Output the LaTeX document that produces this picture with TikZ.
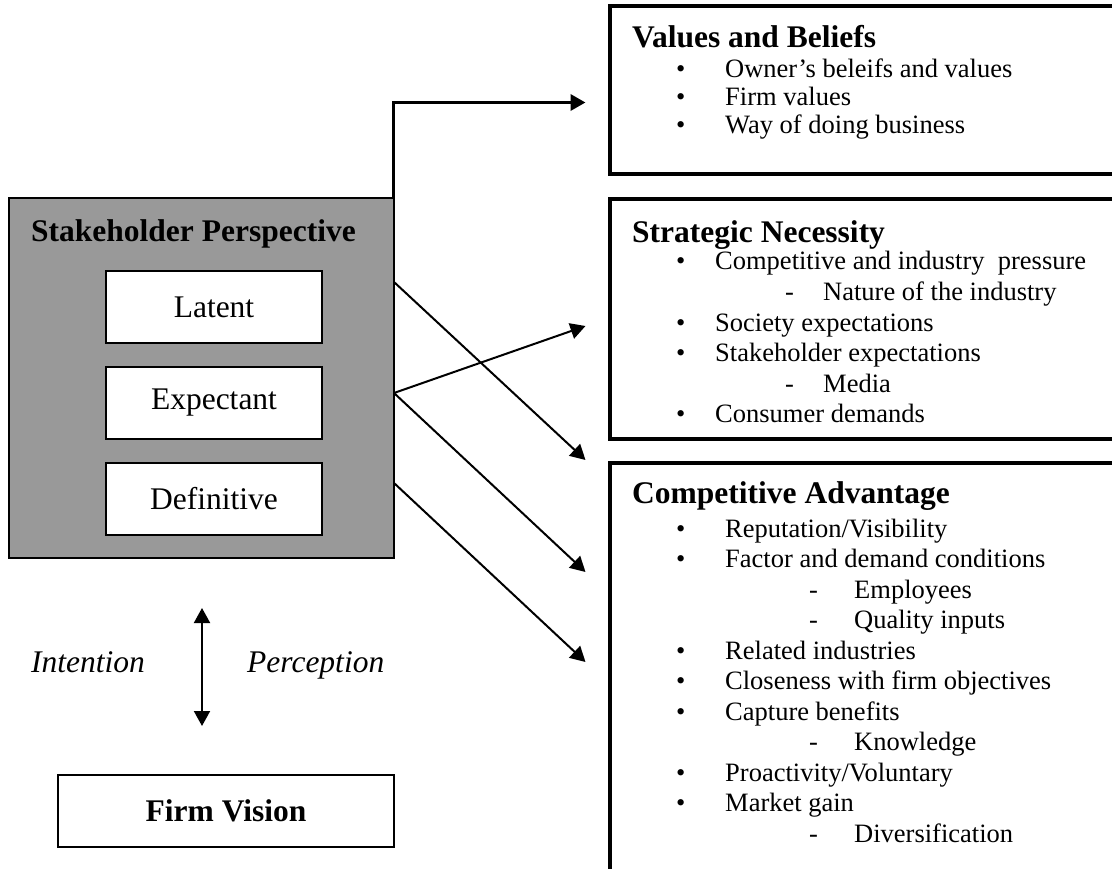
\documentclass[tikz,border=0pt]{standalone}
\usepackage{fontspec}
\setmainfont{Liberation Serif}
\usetikzlibrary{arrows.meta}
\definecolor{spgray}{RGB}{153,153,153}
\begin{document}
\begin{tikzpicture}[x=1pt,y=-1pt,
  bigbox/.style={draw, line width=4pt, inner sep=0pt, outer sep=0pt, anchor=north west, fill=white},
  inbox/.style={draw, line width=2pt, fill=white, inner sep=0pt, outer sep=0pt, minimum width=216pt, minimum height=72pt, font=\fontsize{31.5}{36}\selectfont},
  ttl/.style={anchor=base west, inner sep=0pt, font=\fontsize{31.5}{36}\selectfont\bfseries},
  itm/.style={anchor=base west, inner sep=0pt, font=\fontsize{26.5}{30}\selectfont},
  itl/.style={anchor=base west, inner sep=0pt, font=\fontsize{31.5}{36}\selectfont\itshape},
  tip/.style={-{Triangle[length=15pt,width=16pt]}},
  conn/.style={line width=2pt, tip},
  thickconn/.style={line width=3.5pt, tip},
  dbl/.style={line width=2pt, {Triangle[length=15pt,width=16pt]}-{Triangle[length=15pt,width=16pt]}}
]
\useasboundingbox (0,0) rectangle (1112,869);
\clip (0,0) rectangle (1112,869);

% ---------- right boxes ----------
\node[bigbox, minimum width=508pt, minimum height=168pt] (values) at (610,6.5) {};
\node[bigbox, minimum width=508pt, minimum height=240pt] (strat) at (610,199) {};
\node[bigbox, minimum width=508pt, minimum height=420pt] (comp) at (610,463) {};

% Values and Beliefs
\node[ttl] (vt) at (632,48) {Values and Beliefs};
\node[itm] (vb1) at (676,78) {\textbullet};  \node[itm] (v1) at (725,78) {Owner’s beleifs and values};
\node[itm] (vb2) at (676,106) {\textbullet}; \node[itm] (v2) at (725,106) {Firm values};
\node[itm] (vb3) at (676,134) {\textbullet}; \node[itm] (v3) at (725,134) {Way of doing business};

% Strategic Necessity
\node[ttl] (st) at (632,243) {Strategic Necessity};
\node[itm] (sb1) at (676,270) {\textbullet};   \node[itm] (s1) at (715,270) {Competitive and industry\ \ pressure};
\node[itm] (sd1) at (785,300.5) {-};           \node[itm] (s2) at (823,300.5) {Nature of the industry};
\node[itm] (sb3) at (676,331) {\textbullet};   \node[itm] (s3) at (715,331) {Society expectations};
\node[itm] (sb4) at (676,361.5) {\textbullet}; \node[itm] (s4) at (715,361.5) {Stakeholder expectations};
\node[itm] (sd5) at (785,392) {-};             \node[itm] (s5) at (823,392) {Media};
\node[itm] (sb6) at (676,422) {\textbullet};   \node[itm] (s6) at (715,422) {Consumer demands};

% Competitive Advantage
\node[ttl] (ct) at (632,503) {Competitive Advantage};
\node[itm] (cb1) at (676,537) {\textbullet};    \node[itm] (c1) at (725,537) {Reputation/Visibility};
\node[itm] (cb2) at (676,567.5) {\textbullet};  \node[itm] (c2) at (725,567.5) {Factor and demand conditions};
\node[itm] (cd3) at (809,598) {-};              \node[itm] (c3) at (854,598) {Employees};
\node[itm] (cd4) at (809,628.5) {-};            \node[itm] (c4) at (854,628.5) {Quality inputs};
\node[itm] (cb5) at (676,659) {\textbullet};    \node[itm] (c5) at (725,659) {Related industries};
\node[itm] (cb6) at (676,689.5) {\textbullet};  \node[itm] (c6) at (725,689.5) {Closeness with firm objectives};
\node[itm] (cb7) at (676,720) {\textbullet};    \node[itm] (c7) at (725,720) {Capture benefits};
\node[itm] (cd8) at (809,750.5) {-};            \node[itm] (c8) at (854,750.5) {Knowledge};
\node[itm] (cb9) at (676,781) {\textbullet};    \node[itm] (c9) at (725,781) {Proactivity/Voluntary};
\node[itm] (cb10) at (676,811.5) {\textbullet}; \node[itm] (c10) at (725,811.5) {Market gain};
\node[itm] (cd11) at (809,842) {-};             \node[itm] (c11) at (854,842) {Diversification};

% ---------- left side ----------
\node[draw, line width=2pt, fill=spgray, inner sep=0pt, outer sep=0pt, anchor=north west,
      minimum width=385pt, minimum height=360pt] (sp) at (9,198) {};
\node[ttl] (spt) at (31,242) {Stakeholder Perspective};
\node[inbox] (lat) at (214,307) {Latent};
\node[inbox] (exp) at (214,403) {Expectant};
\node[inbox] (def) at (214,498.5) {Definitive};

\node[draw, line width=2pt, fill=white, inner sep=0pt, outer sep=0pt,
      minimum width=336pt, minimum height=72pt, font=\fontsize{31.5}{36}\selectfont\bfseries] (fv) at (226,811) {Firm Vision};

\node[itl] (int) at (31,672) {Intention};
\node[itl] (per) at (247,672) {Perception};

% ---------- connectors ----------
\coordinate (tVal) at (585.5,102.5);
\coordinate (tLat) at (585.5,460);
\coordinate (tExpU) at (585.5,326);
\coordinate (tExpD) at (585.5,572);
\coordinate (tDef) at (585.5,662);
\coordinate (dA) at (202,608);
\coordinate (dB) at (202,726);

\draw[thickconn] ([xshift=-0.5pt]sp.north east) |- (tVal);
\draw[conn] ([yshift=-84pt]sp.north east) -- (tLat);
\draw[conn] ([yshift=-195pt]sp.north east) -- (tExpU);
\draw[conn] ([yshift=-195pt]sp.north east) -- (tExpD);
\draw[conn] ([yshift=-285pt]sp.north east) -- (tDef);
\draw[dbl] (dA) -- (dB);
\end{tikzpicture}
\end{document}
